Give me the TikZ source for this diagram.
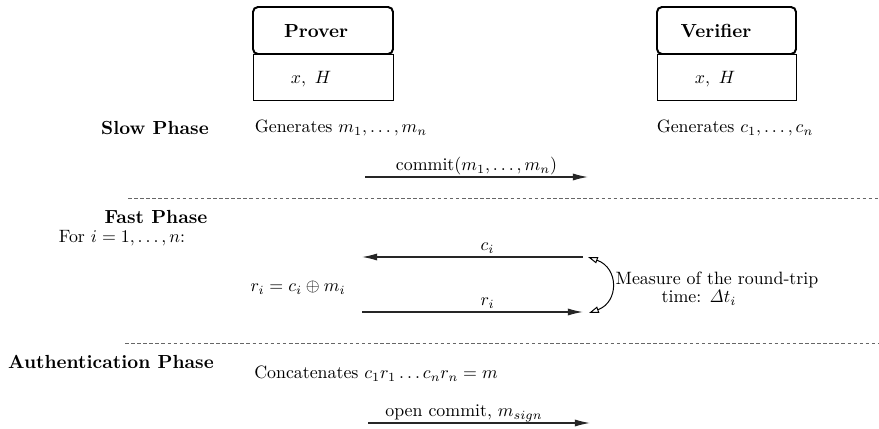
\documentclass[tikz,border=0pt]{standalone}
\usetikzlibrary{arrows.meta}
\begin{document}
\begin{tikzpicture}[x=0.56pt,y=-0.56pt,
  every node/.style={inner sep=0pt},
  headbox/.style={draw,line width=1.1pt,rounded corners=2.8pt},
  bodybox/.style={draw,line width=0.45pt},
  msg/.style={draw=black!85,line width=0.7pt,-{Latex[length=8.5pt,width=4pt]}},
  sep/.style={draw=black!60,dash pattern=on 2pt off 1.4pt,line width=0.45pt},
  phase/.style={font=\fontsize{10.6}{12.7}\selectfont\bfseries},
  lbl/.style={anchor=base,yshift=3.4pt},
  opentip/.style={line width=0.55pt,{Triangle[open,length=5.5pt,width=3.6pt]}-{Triangle[open,length=5.5pt,width=3.6pt]}}]
\useasboundingbox (0,0) rectangle (879,429);
% boxes
\draw[bodybox] (253,54) rectangle (393,100);
\draw[headbox] (253,7) rectangle (393,54);
\node[phase] (prover) at (316,31) {Prover};
\node (pxh) at (311,79) {$x,\ H$};
\draw[bodybox] (657,54) rectangle (796,100);
\draw[headbox] (657,7) rectangle (796,54);
\node[phase] (verifier) at (716,31) {Verifier};
\node (vxh) at (715,79) {$x,\ H$};
% slow phase
\node[phase] (slow) at (155,128) {Slow Phase};
\node (genm) at (341,128) {Generates $m_1,\ldots,m_n$};
\node (genc) at (735,128) {Generates $c_1,\ldots,c_n$};
\coordinate (c1a) at (365,177);
\coordinate (c1b) at (588,177);
\draw[msg] (c1a) -- node[lbl] (commitlbl) {commit$(m_1,\ldots,m_n)$} (c1b);
\coordinate (d1a) at (128,198);
\coordinate (d1b) at (879,198);
\draw[sep] (d1a) -- (d1b);
% fast phase
\node[phase] (fast) at (156,217) {Fast Phase};
\node (fori) at (122,238) {For $i=1,\ldots,n$:};
\coordinate (cia) at (583,257);
\coordinate (cib) at (362,257);
\draw[msg] (cia) -- node[lbl,xshift=8.4pt] (cilbl) {$c_i$} (cib);
\node (ri) at (298,288) {$r_i=c_i\oplus m_i$};
\coordinate (ria) at (362,312);
\coordinate (rib) at (583,312);
\draw[msg] (ria) -- node[lbl,xshift=8.4pt] (rilbl) {$r_i$} (rib);
\coordinate (arcA) at (588,257);
\coordinate (arcB) at (589,313);
\draw[opentip] (arcA) .. controls (619,268) and (619,302) .. (arcB);
\node (measure) at (717,280) {Measure of the round-trip};
\node (mtime) at (699,298) {time: $\mathit{\Delta} t_i$};
\coordinate (d2a) at (125,343);
\coordinate (d2b) at (879,343);
\draw[sep] (d2a) -- (d2b);
% authentication phase
\node[phase] (auth) at (111,362) {Authentication Phase};
\node (concat) at (376,374) {Concatenates $c_1r_1\ldots c_nr_n=m$};
\coordinate (o1a) at (368,423);
\coordinate (o1b) at (590,423);
\draw[msg] (o1a) -- node[lbl,xshift=-8.4pt] (openlbl) {open commit, $m_{sign}$} (o1b);
\end{tikzpicture}
\end{document}
